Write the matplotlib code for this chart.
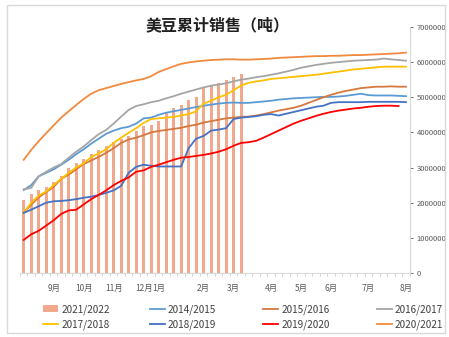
import matplotlib
matplotlib.use('Agg')
import matplotlib.pyplot as plt
from matplotlib.patches import Rectangle
import numpy as np

plt.rcParams['font.family'] = ['Noto Sans CJK SC', 'DejaVu Sans']

# weekly categories, Sep -> Aug (52 weeks)
n_weeks = 52
month_pos = [4, 8, 12, 16, 18, 24, 28, 33, 37, 41, 46, 51]
month_labels = ['9月', '10月', '11月', '12月', '1月', '2月', '3月',
                '4月', '5月', '6月', '7月', '8月']

# 2021/2022 bars (million tonnes)
s2122 = [2.08, 2.25, 2.36, 2.46, 2.60, 2.75, 2.98, 3.12, 3.25, 3.38,
         3.50, 3.62, 3.72, 3.82, 3.90, 4.03, 4.17, 4.22, 4.31, 4.55,
         4.70, 4.79, 4.93, 5.02, 5.27, 5.31, 5.41, 5.50, 5.58, 5.67]

s1415 = [2.36, 2.50, 2.75, 2.85, 2.95, 3.08, 3.22, 3.38, 3.52, 3.68,
         3.82, 3.96, 4.05, 4.12, 4.16, 4.25, 4.40, 4.42, 4.50, 4.56,
         4.60, 4.64, 4.68, 4.72, 4.76, 4.79, 4.82, 4.84, 4.85, 4.84,
         4.84, 4.86, 4.88, 4.90, 4.93, 4.95, 4.97, 4.98, 4.99, 5.00,
         5.01, 5.01, 5.02, 5.04, 5.07, 5.10, 5.06, 5.05, 5.05, 5.05,
         5.04, 5.03]

s1516 = [1.71, 1.95, 2.15, 2.30, 2.45, 2.68, 2.80, 2.95, 3.10, 3.20,
         3.30, 3.42, 3.55, 3.70, 3.80, 3.85, 3.92, 4.00, 4.04, 4.07,
         4.10, 4.13, 4.18, 4.22, 4.28, 4.32, 4.36, 4.40, 4.42, 4.44,
         4.45, 4.48, 4.52, 4.57, 4.62, 4.66, 4.70, 4.76, 4.84, 4.92,
         5.00, 5.07, 5.13, 5.18, 5.22, 5.26, 5.28, 5.30, 5.30, 5.31,
         5.30, 5.30]

s1617 = [2.38, 2.42, 2.75, 2.88, 3.00, 3.10, 3.28, 3.45, 3.60, 3.78,
         3.95, 4.07, 4.25, 4.45, 4.64, 4.75, 4.80, 4.86, 4.90, 4.97,
         5.03, 5.10, 5.16, 5.22, 5.28, 5.33, 5.36, 5.40, 5.45, 5.50,
         5.53, 5.57, 5.60, 5.64, 5.68, 5.73, 5.78, 5.84, 5.88, 5.92,
         5.95, 5.98, 6.00, 6.02, 6.04, 6.05, 6.06, 6.07, 6.10, 6.08,
         6.06, 6.04]

s1718 = [1.71, 2.00, 2.20, 2.32, 2.50, 2.68, 2.85, 3.00, 3.12, 3.30,
         3.40, 3.52, 3.70, 3.85, 3.99, 4.12, 4.27, 4.38, 4.40, 4.42,
         4.44, 4.48, 4.52, 4.60, 4.82, 4.90, 5.00, 5.07, 5.20, 5.33,
         5.41, 5.45, 5.48, 5.52, 5.54, 5.56, 5.58, 5.60, 5.62, 5.64,
         5.67, 5.70, 5.73, 5.76, 5.79, 5.81, 5.83, 5.85, 5.87, 5.87,
         5.87, 5.87]

s1819 = [1.71, 1.80, 1.90, 2.00, 2.04, 2.05, 2.07, 2.10, 2.14, 2.17,
         2.22, 2.28, 2.35, 2.48, 2.85, 3.02, 3.08, 3.05, 3.03, 3.03,
         3.03, 3.03, 3.55, 3.82, 3.90, 4.05, 4.08, 4.12, 4.38, 4.42,
         4.44, 4.46, 4.50, 4.52, 4.48, 4.53, 4.58, 4.63, 4.68, 4.73,
         4.76, 4.84, 4.86, 4.86, 4.86, 4.86, 4.87, 4.87, 4.87, 4.87,
         4.87, 4.86]

s1920 = [0.94, 1.10, 1.20, 1.35, 1.50, 1.68, 1.78, 1.80, 1.95, 2.10,
         2.22, 2.35, 2.50, 2.62, 2.72, 2.88, 2.92, 3.02, 3.08, 3.15,
         3.22, 3.28, 3.30, 3.33, 3.36, 3.40, 3.45, 3.52, 3.62, 3.70,
         3.72, 3.76, 3.85, 3.95, 4.05, 4.15, 4.25, 4.33, 4.40, 4.47,
         4.53, 4.58, 4.62, 4.65, 4.68, 4.70, 4.73, 4.75, 4.76, 4.76,
         4.75]

s2021 = [3.22, 3.50, 3.75, 3.98, 4.20, 4.42, 4.60, 4.78, 4.95, 5.10,
         5.20, 5.26, 5.32, 5.38, 5.43, 5.48, 5.52, 5.60, 5.72, 5.80,
         5.88, 5.95, 5.99, 6.02, 6.04, 6.06, 6.07, 6.08, 6.08, 6.07,
         6.07, 6.08, 6.09, 6.10, 6.12, 6.13, 6.14, 6.15, 6.16, 6.17,
         6.17, 6.18, 6.18, 6.19, 6.20, 6.20, 6.21, 6.22, 6.23, 6.24,
         6.25, 6.27]

lines = [
    ('2014/2015', s1415, '#5B9BD5'),
    ('2015/2016', s1516, '#D4783F'),
    ('2016/2017', s1617, '#A5A5A5'),
    ('2017/2018', s1718, '#FFC000'),
    ('2018/2019', s1819, '#4472C4'),
    ('2019/2020', s1920, '#FF0000'),
    ('2020/2021', s2021, '#F08A3E'),
]

fig = plt.figure(figsize=(4.49, 3.37), dpi=100)
fig.patches.append(Rectangle((0.016, 0.012), 0.975, 0.972, transform=fig.transFigure,
                             fill=False, edgecolor='#D9D9D9', lw=1.0))
ax = fig.add_axes([0.0445, 0.19, 0.868, 0.73])

x_bar = np.arange(len(s2122))
bar = ax.bar(x_bar, np.array(s2122) * 1e6, width=0.42, color='#F2A88C', label='2021/2022', zorder=1)

handles = {}
for name, vals, col in lines:
    h, = ax.plot(np.arange(len(vals)), np.array(vals) * 1e6, color=col, lw=1.3, label=name, zorder=2)
    handles[name] = h

ax.set_xlim(-0.5, n_weeks - 0.5)
ax.set_ylim(0, 7e6)
ax.yaxis.tick_right()
ax.set_yticks(np.arange(0, 7e6 + 1, 1e6))
ax.set_yticklabels([f'{int(v)}' for v in np.arange(0, 7e6 + 1, 1e6)])
ax.tick_params(axis='y', labelsize=5.5, colors='#595959', length=2, width=0.6, pad=3)

ax.set_xticks(month_pos)
ax.set_xticklabels(month_labels)
ax.set_xticks(np.arange(-0.5, n_weeks, 1), minor=True)
ax.tick_params(axis='x', which='major', length=0, labelsize=6, colors='#595959', pad=8)
ax.tick_params(axis='x', which='minor', length=2, width=0.5, color='#BFBFBF')

for s in ['top', 'left']:
    ax.spines[s].set_visible(False)
ax.spines['right'].set_color('#D9D9D9')
ax.spines['bottom'].set_color('#D9D9D9')

fig.text(0.485, 0.925, '美豆累计销售（吨）', ha='center', va='center',
         fontsize=11.5, fontweight='bold', color='#202020')

# legend: 4 columns, 2 rows, placed column by column
cols = [
    (bar, handles['2017/2018']),
    (handles['2014/2015'], handles['2018/2019']),
    (handles['2015/2016'], handles['2019/2020']),
    (handles['2016/2017'], handles['2020/2021']),
]
col_x = [0.096, 0.333, 0.586, 0.839]
for cx, pair in zip(col_x, cols):
    leg = fig.legend(handles=list(pair), labels=[h.get_label() for h in pair],
                     loc='lower left', bbox_to_anchor=(cx, 0.02), frameon=False,
                     fontsize=7.2, handlelength=1.5, handletextpad=0.3,
                     labelspacing=0.5, borderaxespad=0, borderpad=0,
                     labelcolor='#404040')

fig.savefig('out.png', dpi=100)
